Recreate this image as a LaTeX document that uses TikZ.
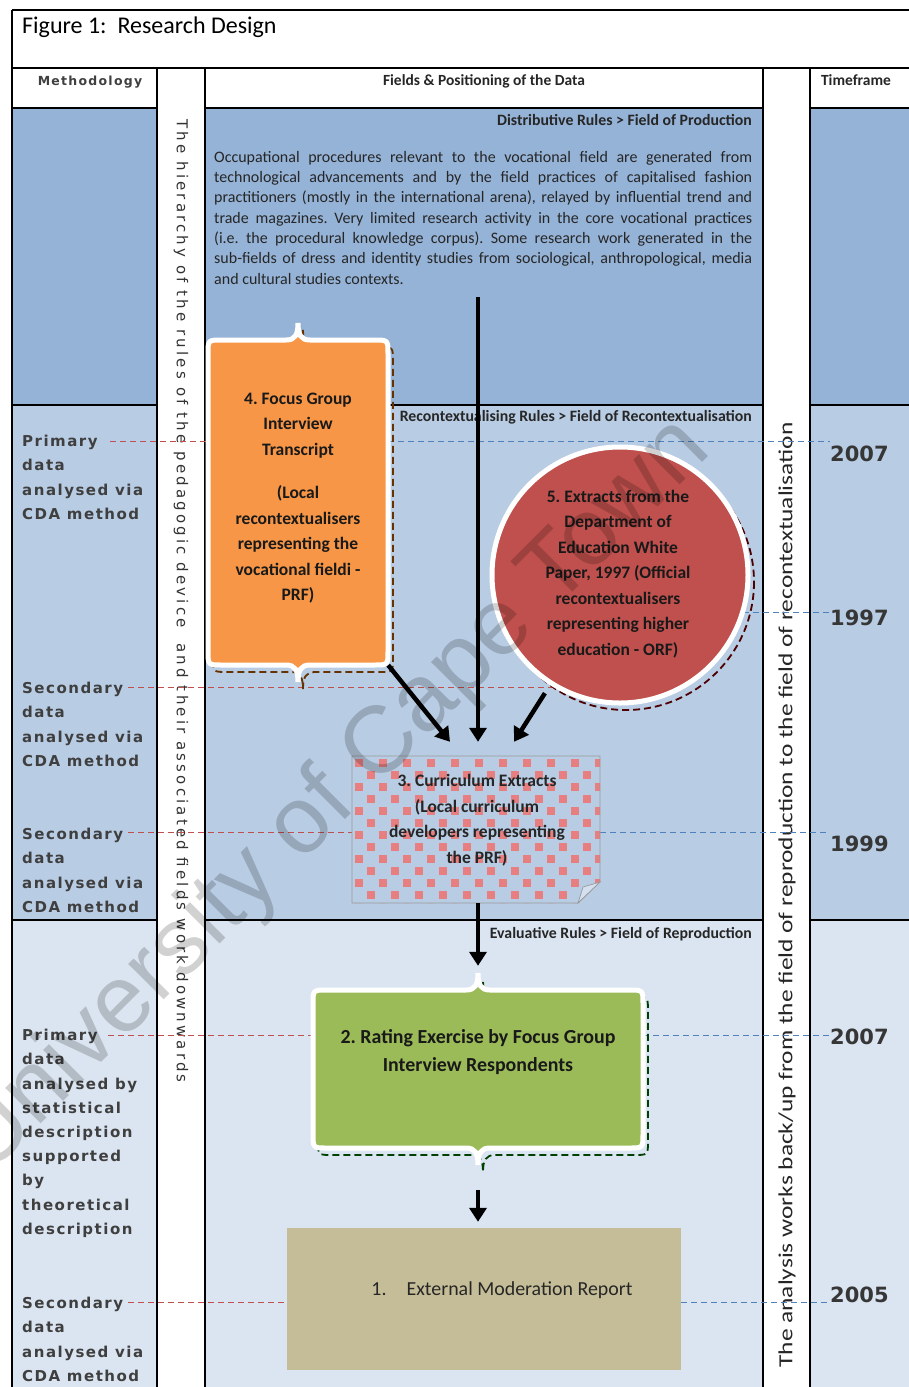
\documentclass[tikz,border=0pt]{standalone}
\usepackage{fontspec}
\setmainfont{Carlito}
\newfontfamily\verdfont[LetterSpace=10]{DejaVu Sans}
\newfontfamily\spacedfont[LetterSpace=21]{DejaVu Sans}
\newfontfamily\yearfont{DejaVu Sans}
\newfontfamily\markfont{Liberation Sans}
\usetikzlibrary{positioning, arrows.meta, calc}

\definecolor{rowA}{HTML}{95B3D7}
\definecolor{rowB}{HTML}{B8CCE4}
\definecolor{rowC}{HTML}{DBE5F1}
\definecolor{boxorange}{HTML}{F79646}
\definecolor{boxred}{HTML}{C0504D}
\definecolor{boxgreen}{HTML}{9BBB59}
\definecolor{boxtan}{HTML}{C4BD97}
\definecolor{checkpink}{HTML}{E77E80}
\definecolor{dashred}{HTML}{C0504D}
\definecolor{dashblue}{HTML}{4F81BD}
\definecolor{methgray}{HTML}{3F3F3F}
\definecolor{yeargray}{HTML}{363636}

% brace-edged box: style, x1, y1, x2, y2 (y grows downwards)
\newcommand{\bracebox}[5]{%
  \pgfmathsetmacro{\bm}{(#2+#4)/2}
  \path[#1] (#2+14,#3) -- (\bm-12,#3) .. controls (\bm-3,#3) and (\bm,#3-5) .. (\bm,#3-17)
    .. controls (\bm,#3-5) and (\bm+3,#3) .. (\bm+12,#3) -- (#4-14,#3)
    .. controls (#4,#3) .. (#4,#3+14) -- (#4,#5-14) .. controls (#4,#5) .. (#4-14,#5)
    -- (\bm+12,#5) .. controls (\bm+3,#5) and (\bm,#5+5) .. (\bm,#5+17)
    .. controls (\bm,#5+5) and (\bm-3,#5) .. (\bm-12,#5) -- (#2+14,#5)
    .. controls (#2,#5) .. (#2,#5-14) -- (#2,#3+14) .. controls (#2,#3) .. (#2+14,#3) -- cycle;
}

\begin{document}
\frenchspacing
\begin{tikzpicture}[x=1pt, y=-1pt,
  framerule/.style={line width=2.4pt},
  rulelabel/.style={anchor=base east, inner sep=0pt, text=black!85,
                    font=\bfseries\fontsize{15.8}{17}\selectfont},
  headlabel/.style={anchor=base, inner sep=0pt, text=black!85,
                    font=\bfseries\fontsize{15.5}{17}\selectfont},
  boxtext/.style={align=center, inner sep=0pt, text=black!90,
                  font=\bfseries\fontsize{17.5}{25.5}\selectfont},
  methtext/.style={anchor=north west, align=left, inner sep=0pt, text=methgray,
                   font=\verdfont\bfseries\fontsize{15}{24.2}\selectfont},
  yearlabel/.style={anchor=west, inner sep=0pt, text=yeargray,
                    font=\yearfont\bfseries\fontsize{21}{24}\selectfont},
  reddash/.style={draw=dashred, line width=0.9pt, dash pattern=on 6pt off 4pt},
  bluedash/.style={draw=dashblue, line width=0.9pt, dash pattern=on 6pt off 4pt},
  flowarrow/.style={line width=4.5pt, -{Triangle[length=14pt, width=17pt]}},
  boxface/.style={draw=white, line width=5pt},
  shadowedge/.style={line width=1.8pt, dash pattern=on 7pt off 4pt},
]
  \useasboundingbox (0,0) rectangle (909,1387);
  \fill[white] (0,0) rectangle (909,1387);

  % row shading
  \foreach \xa/\xb in {12/157, 205/763, 810/909} {
    \fill[rowA] (\xa,108) rectangle (\xb,405);
    \fill[rowB] (\xa,405) rectangle (\xb,920);
    \fill[rowC] (\xa,920) rectangle (\xb,1387);
  }

  % table frame
  \draw[framerule] (12,10) -- (909,10);
  \draw[framerule] (12,68) -- (909,68);
  \draw[line width=1.5pt] (12,10) -- (12,1387);
  \foreach \yy in {108, 405, 920} {
    \draw[framerule] (12,\yy) -- (157,\yy);
    \draw[framerule] (205,\yy) -- (763,\yy);
    \draw[framerule] (810,\yy) -- (909,\yy);
  }
  \draw[line width=1.2pt] (157,68) -- (157,1387);
  \draw[line width=2.8pt] (205,68) -- (205,1387);
  \draw[line width=2.8pt] (763,68) -- (763,1387);
  \draw[line width=2pt] (810,68) -- (810,1387);

  % headings
  \node[anchor=base west, inner sep=0pt, font=\fontsize{24}{26}\selectfont] (title) at (22,33) {Figure 1:\ \ Research Design};
  \node[anchor=base, inner sep=0pt, text=black!75, font=\verdfont\bfseries\fontsize{12.5}{14}\selectfont] (methhead) at (90,85) {Methodology};
  \node[headlabel] (fieldhead) at (484,85) {Fields \& Positioning of the Data};
  \node[headlabel] (timehead) at (856,85) {Timeframe};

  % field labels
  \node[rulelabel] (distlabel) at (752,125) {Distributive Rules > Field of Production};
  \node[rulelabel] (reclabel) at (752,421) {Recontextualising Rules > Field of Recontextualisation};
  \node[rulelabel] (evallabel) at (752,938) {Evaluative Rules > Field of Reproduction};

  \node[anchor=north west, inner sep=0pt, text width=538pt, align=justify, text=black!85,
        font=\fontsize{16}{20.3}\selectfont] (prodtext) at (214,151)
    {\hyphenpenalty=10000 \tolerance=10000
     Occupational procedures relevant to the vocational field are generated from\linebreak
     technological advancements and by the field practices of capitalised fashion\linebreak
     practitioners (mostly in the international arena), relayed by influential trend and\linebreak
     trade magazines. Very limited research activity in the core vocational practices\linebreak
     (i.e.\ the procedural knowledge corpus). Some research work generated in the\linebreak
     sub-fields of dress and identity studies from sociological, anthropological, media\linebreak
     and cultural studies contexts.};

  % side strips
  \node[rotate=-90, inner sep=0pt, text=black!80, font=\spacedfont\fontsize{15}{17}\selectfont] (hierarchy) at (181,601)
    {The hierarchy of the rules of the pedagogic device\ \ and their associated fields work downwards};
  \node[rotate=90, inner sep=0pt, text=black!85, font=\fontsize{20}{22}\selectfont] (backup) at (787,895)
    {\scalebox{1.27}[1]{The analysis works back/up from the field of reproduction to the field of recontextualisation}};

  % methodology column
  \node[methtext] (meth1) at (22,435) {Primary\\data\\analysed via\\CDA method};
  \node[methtext] (meth2) at (22,682) {Secondary\\data\\analysed via\\CDA method};
  \node[methtext] (meth3) at (22,828) {Secondary\\data\\analysed via\\CDA method};
  \node[methtext] (meth4) at (22,1029) {Primary\\data\\analysed by\\statistical\\description\\supported\\by\\theoretical\\description};
  \node[methtext] (meth5) at (22,1297) {Secondary\\data\\analysed via\\CDA method};

  % timeframe column
  \node[yearlabel] (yr1) at (830,454) {2007};
  \node[yearlabel] (yr2) at (830,618) {1997};
  \node[yearlabel] (yr3) at (830,844) {1999};
  \node[yearlabel] (yr4) at (830,1037) {2007};
  \node[yearlabel] (yr5) at (830,1295) {2005};

  % box nodes (outlines drawn below)
  \node[minimum width=180pt, minimum height=334pt, inner sep=0pt] (focus) at (298,498) {};
  \node[minimum width=248pt, minimum height=147pt, inner sep=0pt] (curric) at (476,829.5) {};
  \node[minimum width=330pt, minimum height=158pt, inner sep=0pt] (rate) at (478,1069) {};
  \node[circle, minimum size=256pt, inner sep=0pt] (whitepaper) at (620,575) {};

  % dashed guide lines
  \coordinate (pm1) at (110,441);
  \coordinate (sm1) at (128,687);
  \coordinate (sm2) at (128,832);
  \coordinate (pm2) at (108,1035);
  \coordinate (sm3) at (128,1302);
  \draw[reddash] (pm1) -- (pm1 -| focus.west);
  \draw[reddash] (sm1) -- (sm1 -| whitepaper.241);
  \draw[reddash] (sm2) -- (sm2 -| curric.west);
  \draw[reddash] (pm2) -- (pm2 -| rate.west);
  \draw[bluedash] (focus.east |- pm1) -- (yr1.west |- pm1);
  \draw[bluedash] (whitepaper.-17) -- (yr2.west |- whitepaper.-17);
  \draw[bluedash] (curric.east |- sm2) -- (yr3.west |- sm2);
  \draw[bluedash] (rate.east |- pm2) -- (yr4.west |- pm2);

  % 4. focus group box
  \bracebox{shadowedge, draw=orange!40!black}{213}{347}{393}{672}
  \bracebox{boxface, fill=boxorange}{208}{340}{388}{665}
  \node[boxtext] (focustxt) at (298,498)
    {4. Focus Group\\Interview\\Transcript\\[18pt](Local\\recontextualisers\\representing the\\vocational fieldi -\\PRF)};

  % 5. white paper circle
  \draw[shadowedge, draw=red!30!black] (626,582) circle[radius=128];
  \fill[boxred] (whitepaper) circle[radius=128];
  \draw[boxface] (whitepaper) circle[radius=128];
  \node[boxtext] (wptxt) at (618,574)
    {5. Extracts from the\\Department of\\Education White\\Paper, 1997 (Official\\recontextualisers\\representing higher\\education - ORF)};

  % 3. curriculum extracts (checked, folded corner)
  \begin{scope}
    \clip (352,756) -- (600,756) -- (600,882) -- (578,903) -- (352,903) -- cycle;
    \foreach \r in {0,...,12} {
      \foreach \c in {0,...,10} {
        \fill[checkpink] ({355+24*\c+12*mod(\r,2)},{759+12*\r}) rectangle +(8,8);
      }
    }
  \end{scope}
  \draw[gray!80, line width=0.7pt] (352,756) -- (600,756) -- (600,882) -- (578,903) -- (352,903) -- cycle;
  \draw[gray!80, line width=0.7pt, fill=rowB!60!white] (600,882) -- (583,887) -- (578,903) -- cycle;
  \node[boxtext, text=black!85] (curtxt) at (477,820)
    {3. Curriculum Extracts\\(Local curriculum\\developers representing\\the PRF)};

  % 2. rating exercise box
  \bracebox{shadowedge, draw=green!25!black}{318}{997}{648}{1155}
  \bracebox{boxface, fill=boxgreen}{313}{990}{643}{1148}
  \node[boxtext, font=\bfseries\fontsize{19.9}{28}\selectfont] (ratetxt) at (478,1052)
    {2. Rating Exercise by Focus Group\\Interview Respondents};

  % 1. external moderation report
  \node[fill=boxtan, minimum width=394pt, minimum height=142pt, inner sep=0pt] (report) at (484,1299) {};
  \node[inner sep=0pt, text=black!85, font=\fontsize{19.9}{22}\selectfont] (reptxt) at (502,1290)
    {1.\hspace{20pt}External Moderation Report};
  \draw[reddash] (sm3) -- (sm3 -| report.west);
  \draw[bluedash] (report.east |- sm3) -- (yr5.west |- sm3);

  % flow arrows
  \coordinate (fieldtop) at (478,297);
  \draw[flowarrow] (fieldtop) -- ($(curric.north)+(2,-14)$);
  \draw[flowarrow] (focus.south east) -- ($(curric.north)+(-26,-14)$);
  \draw[flowarrow, shorten <=140pt] (whitepaper.center) -- ($(curric.north)+(38,-14)$);
  \draw[flowarrow, shorten >=24pt] ($(curric.south)+(2,0)$) -- (rate.north);
  \draw[flowarrow, shorten <=42pt, shorten >=6pt] (rate.south) -- (rate.south |- report.north);

  % watermark
  \node[rotate=45, opacity=0.18, inner sep=0pt, font=\markfont\fontsize{95}{100}\selectfont] (mark) at (333,797)
    {University of Cape Town};
\end{tikzpicture}
\end{document}
